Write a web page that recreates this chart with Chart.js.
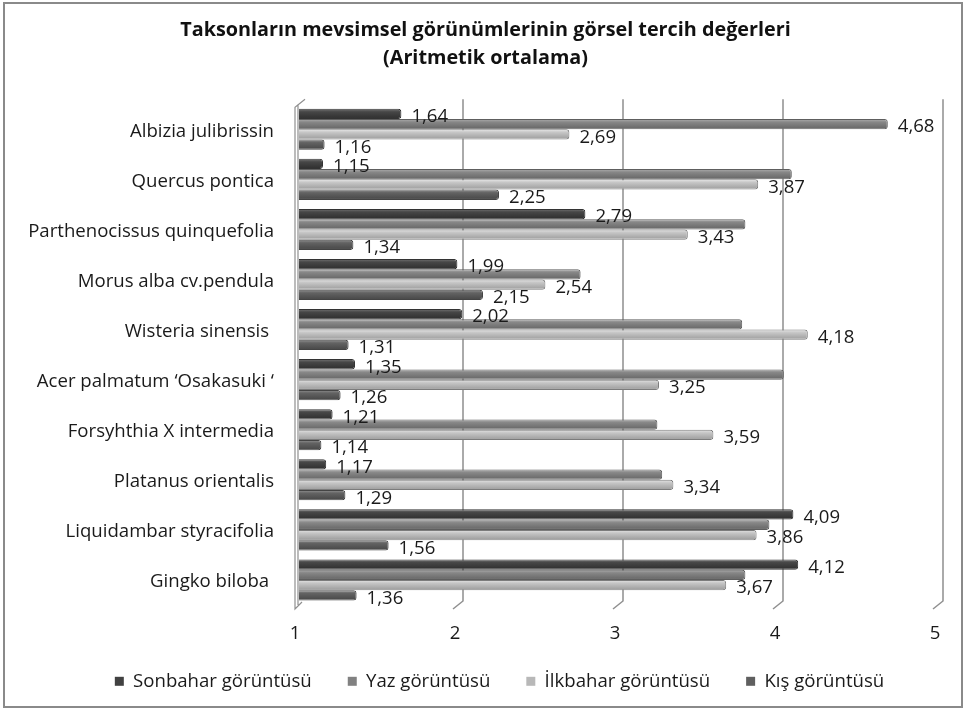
<!DOCTYPE html>
<html lang="tr">
<head>
<meta charset="utf-8">
<title>Taksonların mevsimsel görünümleri</title>
<script src="https://cdn.jsdelivr.net/npm/chart.js@4.4.0/dist/chart.umd.min.js"></script>
<style>
  html, body { margin: 0; padding: 0; background: #fff; }
  #kutu { width: 966px; height: 711px; }
</style>
</head>
<body>
<div id="kutu"><canvas id="tercihChart" width="966" height="711"></canvas></div>
<script>
// taksonlar, yukaridan asagiya
const taksonlar = [
    'Albizia julibrissin',
    'Quercus pontica',
    'Parthenocissus quinquefolia',
    'Morus alba cv.pendula',
    'Wisteria sinensis ',
    'Acer palmatum \u2018Osakasuki \u2018',
    'Forsyhthia X intermedia',
    'Platanus orientalis',
    'Liquidambar styracifolia',
    'Gingko biloba '
];

const sonbahar = [1.64, 1.15, 2.79, 1.99, 2.02, 1.35, 1.21, 1.17, 4.09, 4.12];
const yaz      = [4.68, 4.08, 3.79, 2.76, 3.77, 4.03, 3.24, 3.27, 3.94, 3.79];
const ilkbahar = [2.69, 3.87, 3.43, 2.54, 4.18, 3.25, 3.59, 3.34, 3.86, 3.67];
const kis      = [1.16, 2.25, 1.34, 2.15, 1.31, 1.26, 1.14, 1.29, 1.56, 1.36];

// yaz serisinde sadece bu siradaki cubugun etiketi yaziliyor
const yazEtiketli = [0];

const eksenDegerleri = [1, 2, 3, 4, 5];

const yaziTipi = '"Open Sans"';
const yaziBoyu = 18.6;

// silindir gorunumu icin cubuk basina dikey gradyan
function cubukRengi(renk) {
    return (c) => {
        const chart = c.chart;
        const y = chart.scales.y;
        if (c.dataIndex === undefined || !chart.chartArea || !y) return renk[1];
        const band = y.getPixelForValue(1) - y.getPixelForValue(0);
        const h = band * 0.82 / 4;
        const ust = y.getPixelForValue(c.dataIndex) - band * 0.41 + c.datasetIndex * h;
        const g = chart.ctx.createLinearGradient(0, ust, 0, ust + h);
        g.addColorStop(0, renk[0]);
        g.addColorStop(0.3, renk[1]);
        g.addColorStop(0.85, renk[2]);
        g.addColorStop(1, renk[0]);
        return g;
    };
}

function seri(ad, veri, renk, kenar, lejant, etiketli) {
    return {
        label: ad,
        data: veri,
        backgroundColor: cubukRengi(renk),
        borderColor: kenar,
        borderWidth: 1,
        borderSkipped: 'start',
        borderRadius: { topRight: 3, bottomRight: 3 },
        lejantRengi: lejant,
        etiketli: etiketli
    };
}

const tumu = taksonlar.map((_, i) => i);

// arka duvar, izgara cizgileri ve dis cerceve
const duvarCizgileri = {
    id: 'duvarCizgileri',
    afterLayout(chart) {
        // baslik ve aciklama kutusunu biraz kaydir
        const l = chart.legend;
        l.left += 20; l.right += 20;
        l.top -= 19; l.bottom -= 19;
        const t = chart.titleBlock;
        t.left += 6; t.right += 6;
    },
    beforeDraw(chart) {
        const ctx = chart.ctx;
        ctx.save();
        ctx.fillStyle = '#ffffff';
        ctx.fillRect(0, 0, chart.width, chart.height);
        ctx.strokeStyle = '#8a8a8a';
        ctx.lineWidth = 2;
        ctx.strokeRect(4, 3, chart.width - 8, chart.height - 7);
        ctx.restore();
    },
    beforeDatasetsDraw(chart) {
        const { ctx, chartArea: { top, bottom }, scales: { x } } = chart;
        ctx.save();
        ctx.strokeStyle = '#8f8f8f';
        ctx.lineWidth = 1.5;
        x.ticks.forEach(t => {
            const px = x.getPixelForValue(t.value);
            if (t.value === x.min) return;
            ctx.beginPath();
            ctx.moveTo(px + 4, top - 5);
            ctx.lineTo(px + 4, bottom - 4);
            ctx.lineTo(px - 6, bottom + 4);
            ctx.stroke();
        });
        // sol duvar
        const lx = x.getPixelForValue(x.min);
        ctx.lineWidth = 1.2;
        ctx.beginPath();
        ctx.moveTo(lx + 6, top - 5);
        ctx.lineTo(lx - 4, top + 3);
        ctx.lineTo(lx - 4, bottom + 4);
        ctx.lineTo(lx + 3, bottom - 3);
        ctx.moveTo(lx - 1, top);
        ctx.lineTo(lx - 1, bottom);
        ctx.stroke();
        ctx.restore();
    }
};

// cubuk sonundaki deger yazilari
const degerEtiketleri = {
    id: 'degerEtiketleri',
    afterDatasetsDraw(chart) {
        const ctx = chart.ctx;
        ctx.save();
        ctx.font = yaziBoyu + 'px ' + yaziTipi;
        ctx.fillStyle = '#1a1a1a';
        ctx.textBaseline = 'middle';
        ctx.textAlign = 'left';
        chart.data.datasets.forEach((ds, di) => {
            const meta = chart.getDatasetMeta(di);
            meta.data.forEach((bar, i) => {
                if (!ds.etiketli.includes(i)) return;
                const yazi = ds.data[i].toFixed(2).replace('.', ',');
                ctx.fillText(yazi, bar.x + 10, bar.y + 3);
            });
        });
        ctx.restore();
    }
};

const ctx = document.getElementById('tercihChart').getContext('2d');
new Chart(ctx, {
    type: 'bar',
    data: {
        labels: taksonlar,
        datasets: [
            seri('Sonbahar görüntüsü', sonbahar, ['#767676', '#474747', '#333333'], '#333333', '#414141', tumu),
            seri('Yaz görüntüsü', yaz, ['#b0b0b0', '#878787', '#6c6c6c'], '#5e5e5e', '#818181', yazEtiketli),
            seri('\u0130lkbahar görüntüsü', ilkbahar, ['#e6e6e6', '#c6c6c6', '#a4a4a4'], '#7c7c7c', '#b8b8b8', tumu),
            seri('Kış görüntüsü', kis, ['#959595', '#636363', '#4c4c4c'], '#444444', '#5f5f5f', tumu)
        ]
    },
    options: {
        indexAxis: 'y',
        responsive: false,
        animation: false,
        datasets: {
            bar: { categoryPercentage: 0.82, barPercentage: 1.0 }
        },
        layout: {
            padding: { left: 20, right: 27, top: 0, bottom: 0 }
        },
        scales: {
            x: {
                type: 'linear',
                min: 1,
                max: 5,
                afterBuildTicks: s => { s.ticks = eksenDegerleri.map(v => ({ value: v })); },
                ticks: {
                    font: { family: yaziTipi, size: yaziBoyu },
                    color: '#1a1a1a',
                    padding: 18,
                    labelOffset: -4
                },
                grid: { display: false, drawTicks: false },
                border: { display: false },
                afterFit: s => { s.height = 50; }
            },
            y: {
                grid: { display: false, drawTicks: false },
                border: { display: false },
                ticks: {
                    font: { family: yaziTipi, size: yaziBoyu },
                    color: '#1a1a1a',
                    padding: 25,
                    labelOffset: 2
                },
                afterFit: s => { s.width = 279; }
            }
        },
        plugins: {
            title: {
                display: true,
                text: ['Taksonların mevsimsel görünümlerinin görsel tercih değerleri', '(Aritmetik ortalama)'],
                font: { family: yaziTipi, size: 19.8, weight: 'bold', lineHeight: 1.42 },
                color: '#111111',
                padding: { top: 16, bottom: 32 }
            },
            legend: {
                position: 'bottom',
                maxHeight: 56,
                labels: {
                    boxWidth: 9,
                    boxHeight: 9,
                    padding: 36,
                    color: '#1a1a1a',
                    font: { family: yaziTipi, size: yaziBoyu },
                    // duz dolgu kareler, kenarsiz
                    generateLabels: chart => Chart.defaults.plugins.legend.labels.generateLabels(chart).map(it => ({
                        ...it,
                        fillStyle: chart.data.datasets[it.datasetIndex].lejantRengi,
                        lineWidth: 0
                    }))
                }
            },
            tooltip: { enabled: false }
        }
    },
    plugins: [duvarCizgileri, degerEtiketleri]
});
</script>
</body>
</html>
